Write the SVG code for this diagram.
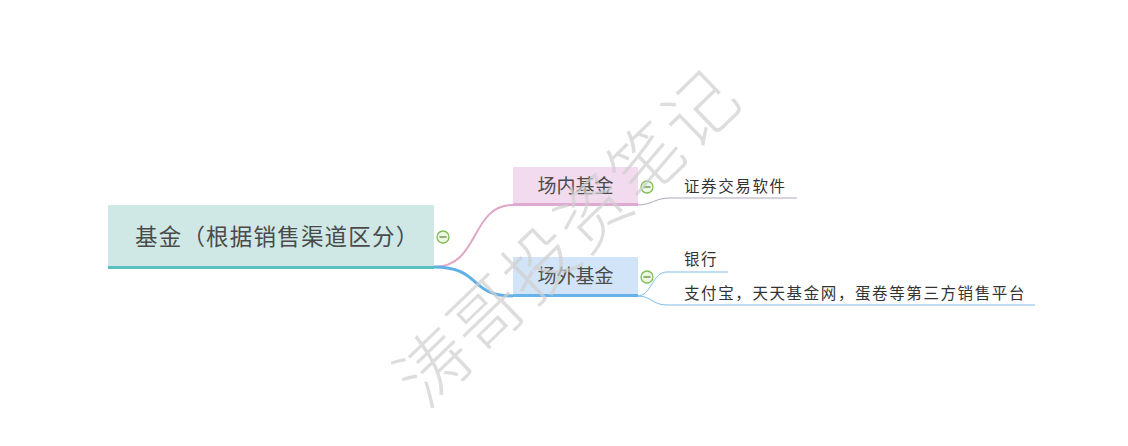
<svg xmlns="http://www.w3.org/2000/svg" width="1128" height="446" viewBox="0 0 1128 446">
<style>
.t{font-family:"Noto Sans CJK SC","Noto Sans",sans-serif;}
.main{font-size:22.5px;fill:#4a4a4a;letter-spacing:1.2px;}
.sub{font-size:19px;fill:#4a4a4a;}
.leaf{font-size:15.5px;fill:#333;letter-spacing:1.6px;}
.ico circle{fill:#eef7e4;stroke:#7cbf50;stroke-width:1.3;}
.ico line{stroke:#5a8f3a;stroke-width:1.3;}
.wm{font-family:"Noto Sans CJK SC",sans-serif;font-size:72px;font-weight:300;fill:#cfcfcf;fill-opacity:0.7;letter-spacing:2px;}
</style>
<defs>
<g id="minus" class="ico"><circle cx="0" cy="0" r="6"/><line x1="-3.5" y1="0" x2="3.5" y2="0"/></g>
</defs>
<rect width="1128" height="446" fill="#ffffff"/>
<g id="connectors" fill="none">
<path d="M434,267 C480,267 470,205 513,205" stroke="#e0a6c6" stroke-width="2"/>
<path d="M434,267 C482,267 468,296 513,296" stroke="#62b0e6" stroke-width="3"/>
<path d="M637,205 C652,205 655,198 670,198 L797,198" stroke="#ada6bf" stroke-width="1"/>
<path d="M637,296 C652,296 652,272 667,272 L728,272" stroke="#7fbde6" stroke-width="1"/>
<path d="M637,296 C652,296 652,305 667,305 L1035,305" stroke="#7fbde6" stroke-width="1"/>
</g>
<g id="root">
<rect x="108" y="205" width="326" height="62" fill="#cfe8e6"/>
<rect x="108" y="266" width="326" height="3" fill="#58bec0"/>
<text class="t main" x="135" y="245">基金（根据销售渠道区分）</text>
<use href="#minus" x="443" y="237"/>
</g>
<g id="node-inner">
<rect x="513" y="167" width="125" height="38" fill="#f3dbef"/>
<rect x="513" y="203" width="125" height="3" fill="#deaad2"/>
<text class="t sub" x="575.5" y="193" text-anchor="middle">场内基金</text>
<use href="#minus" x="647" y="187"/>
</g>
<g id="node-outer">
<rect x="513" y="257" width="125" height="38" fill="#d2e5f8"/>
<rect x="513" y="294" width="125" height="3" fill="#68b2ea"/>
<text class="t sub" x="575.5" y="283" text-anchor="middle">场外基金</text>
<use href="#minus" x="647" y="277"/>
</g>
<g id="leaf-1"><text class="t leaf" x="684" y="192">证券交易软件</text></g>
<g id="leaf-2"><text class="t leaf" x="684" y="265">银行</text></g>
<g id="leaf-3"><text class="t leaf" x="684" y="299">支付宝，天天基金网，蛋卷等第三方销售平台</text></g>
<text class="wm" transform="translate(568,238) rotate(-44)" x="0" y="25" text-anchor="middle">涛哥投资笔记</text>
</svg>
